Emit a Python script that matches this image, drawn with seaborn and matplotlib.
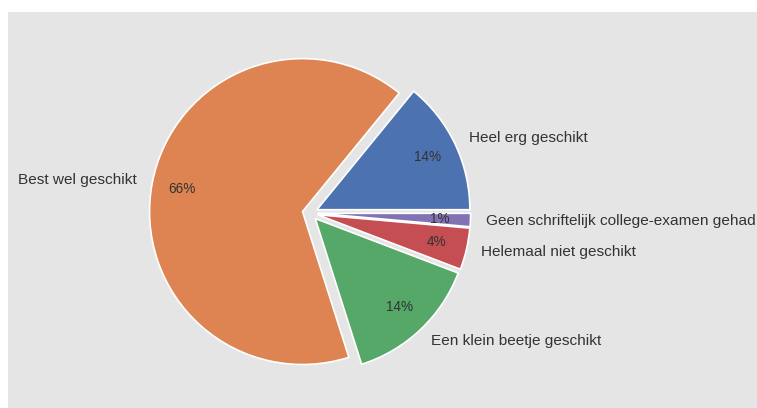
import matplotlib
matplotlib.use('Agg')
import matplotlib.pyplot as plt
import seaborn as sns

# Gegevens
labels = ['Heel erg geschikt', 'Best wel geschikt', 'Een klein beetje geschikt',
          'Helemaal niet geschikt', 'Geen schriftelijk college-examen gehad']
percentages = [14.1, 65.8, 14.3, 4.4, 1.4]
explode = [0.05, 0.05, 0.05, 0.05, 0.05]

sns.set_theme(style='white')
plt.rcParams['font.family'] = ['Liberation Sans', 'DejaVu Sans']
colors = sns.color_palette('deep', 5)

fig = plt.figure(figsize=(7.57, 4.08), dpi=100)
ax = fig.add_axes([8 / 757, 0, 1.0, 396 / 408])

wedges, texts, autotexts = ax.pie(percentages, labels=labels, colors=colors,
                                  explode=explode, autopct='%1.0f%%',
                                  pctdistance=0.8, labeldistance=1.1,
                                  wedgeprops={'edgecolor': 'white', 'linewidth': 1.2},
                                  textprops={'color': '#333333'})
for t in texts:
    t.set_fontsize(11.1)
for t in autotexts:
    t.set_fontsize(9.8)

# grijze achtergrond weer zichtbaar maken (pie zet frame uit)
ax.set_frame_on(True)
ax.patch.set_visible(True)
ax.set_facecolor('#E5E5E5')
for s in ax.spines.values():
    s.set_visible(False)
ax.set_xticks([])
ax.set_yticks([])

ax.set_xlim(-1.974, 2.974)
ax.set_ylim(-1.275, 1.314)

fig.savefig('out.png', dpi=100)
plt.close()
